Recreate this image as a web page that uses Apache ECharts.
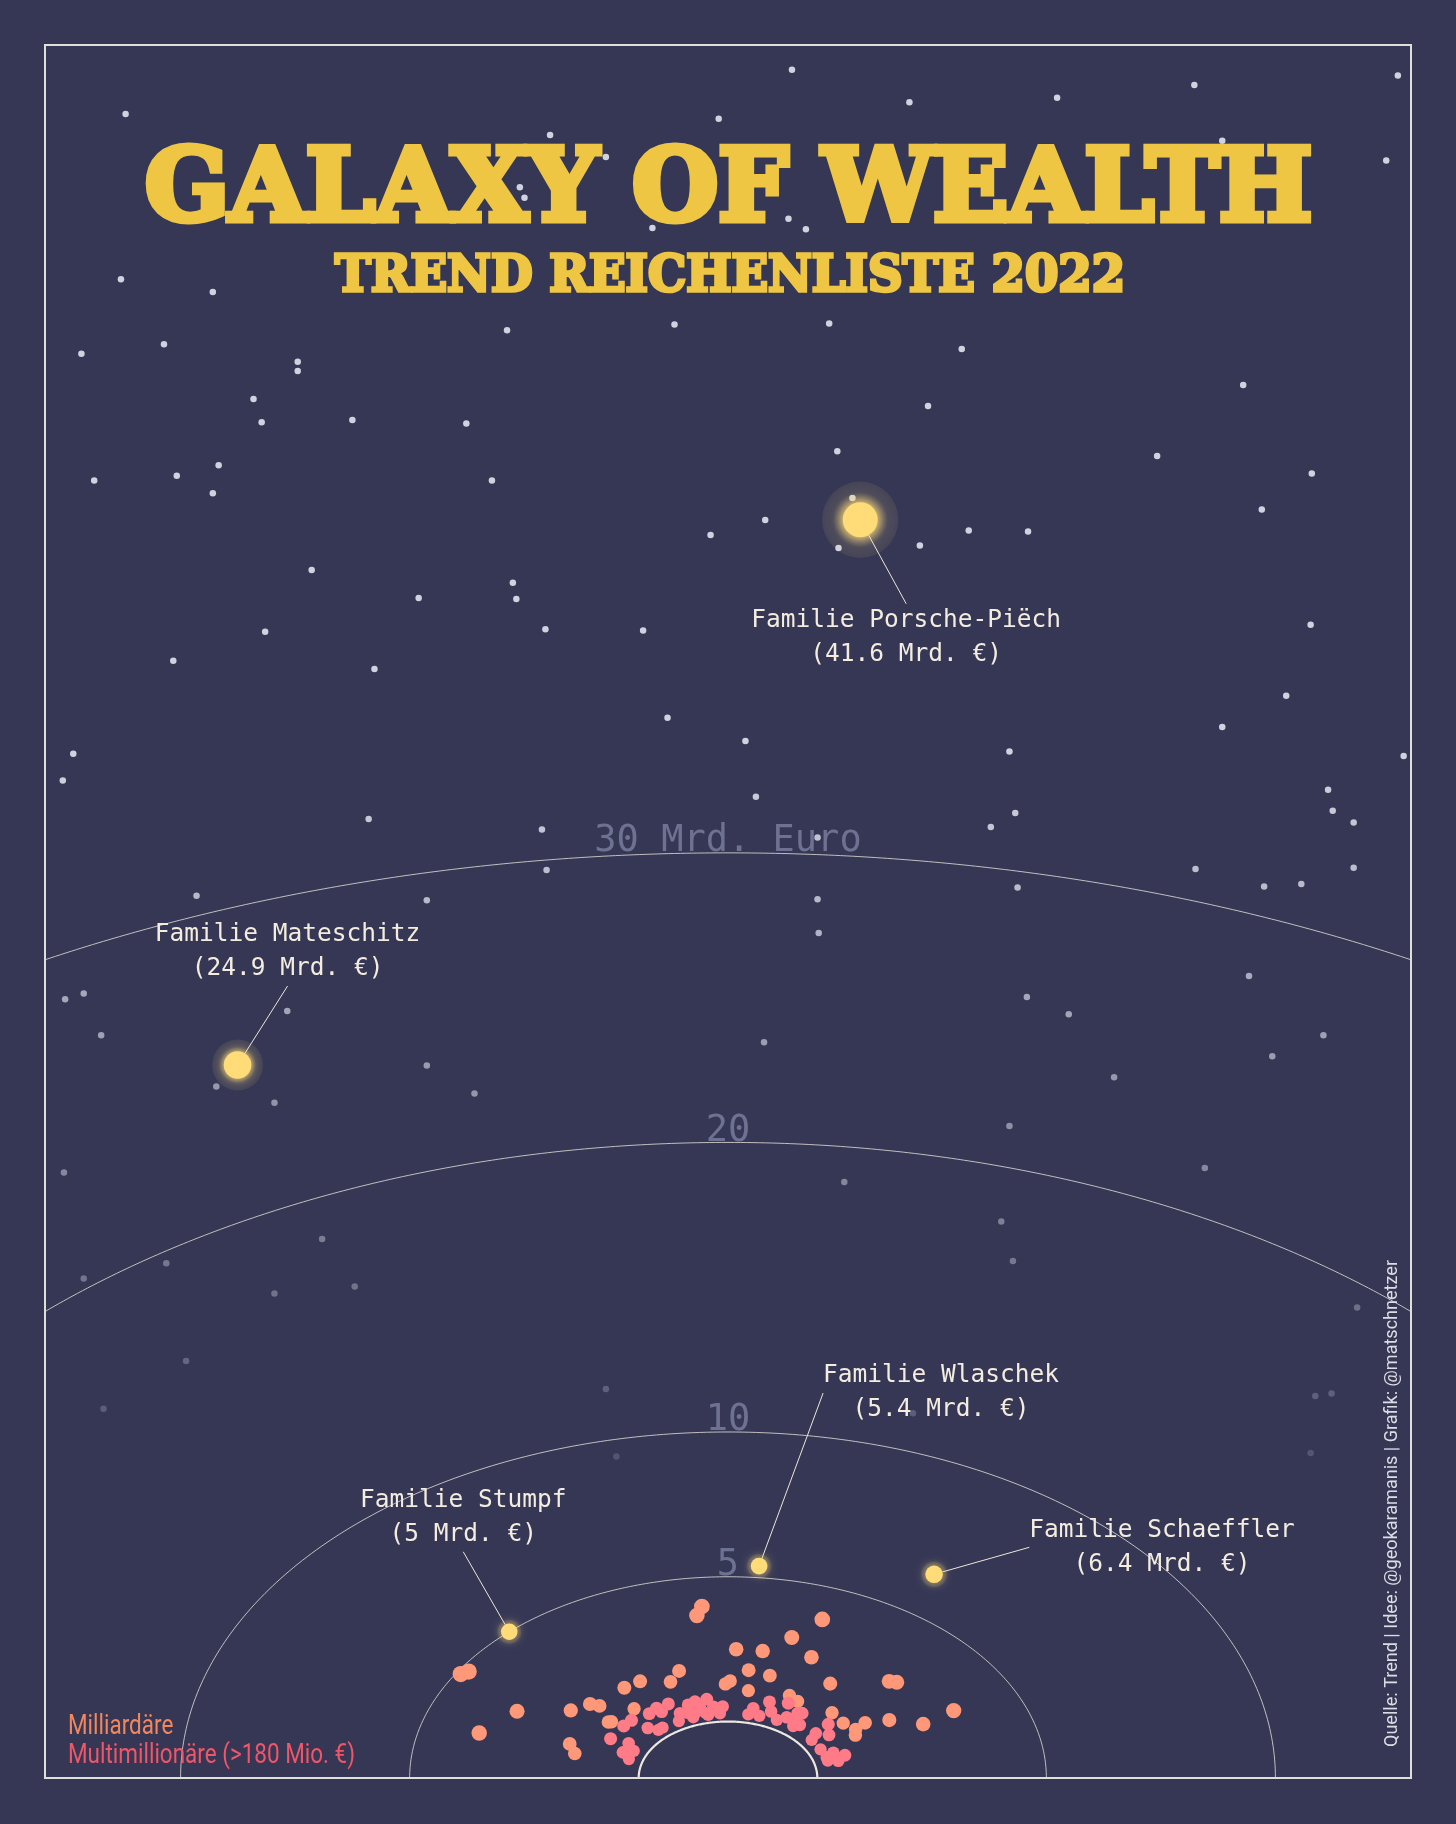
<!DOCTYPE html>
<html lang="de">
<head>
  <meta charset="UTF-8">
  <title>Galaxy of Wealth – Trend Reichenliste 2022</title>
  <script src="https://cdn.jsdelivr.net/npm/echarts@6/dist/echarts.min.js"></script>
  <style>
    html, body { margin: 0; padding: 0; background: #353755; }
    #chart { width: 1456px; height: 1824px; }
  </style>
</head>
<body>
<div id="chart"></div>
<script>
// families with >= 5 Mrd. (labelled)
const familyNames  = ['Familie Porsche-Piëch', 'Familie Mateschitz', 'Familie Schaeffler', 'Familie Wlaschek', 'Familie Stumpf'];
const familyWealth = [41.6, 24.9, 6.4, 5.4, 5];
const familyAngle  = [86.2, 113.5, 57.4, 84.7, 133.4];

// Milliardäre (1 - 5 Mrd.)
const billionWealth = [4.0, 3.7, 3.1, 2.5, 2.5, 1.8, 1.7, 1.9, 1.6, 1.9, 1.9, 1.4, 1.3, 1.1, 1.2,
  2.2, 2.0, 1.8, 1.2, 1.3, 1.25, 1.7, 1.5, 3.9, 2.6, 2.0, 2.9, 3.0, 3.5, 2.7, 2.1, 1.6, 1.3, 1.2,
  1.2, 1.25, 1.1, 4.9, 4.8, 3.2, 3.7];
const billionAngle = [95.5, 96.9, 74.0, 87.7, 80.2, 83.1, 75.5, 106.1, 110.7, 119.9, 126.0, 89.2, 91.0, 81.6, 64.8,
  145.8, 139.7, 138.4, 130.6, 143.5, 142.6, 161.2, 165.8, 69.4, 66.4, 55.6, 43.5, 41.9, 25.3, 23.6, 29.6, 32.5, 31.0, 28.0,
  37.0, 44.8, 60.1, 148.4, 147.0, 153.4, 164.0];

// Multimillionäre (> 180 Mio.)
const multiWealth = [0.95, 0.95, 0.95, 0.51, 0.30, 0.30, 0.86, 0.92, 0.92, 0.76, 0.29, 0.52, 0.48,
  0.78, 0.44, 0.81, 0.34, 0.53, 0.52, 0.29, 0.28, 0.53, 0.51, 0.31, 0.31, 0.29, 0.52, 0.30, 0.83,
  0.53, 0.32, 0.51, 0.95, 0.34, 0.75, 0.81, 0.46, 0.92, 0.71, 0.51, 0.30, 0.30, 0.51, 0.32, 0.31,
  0.53, 0.72, 0.72, 0.53, 0.60, 0.27];
const multiAngle = [152.1, 141.7, 136.6, 135.4, 132.5, 129.4, 127.7, 122.9, 117.0, 122.3, 118.6, 115.1, 111.8,
  105.3, 106.6, 99.7, 102.1, 97.4, 92.7, 94.5, 109.9, 151.0, 158.9, 155.6, 163.2, 78.6, 77.1, 72.3, 71.0,
  67.7, 62.0, 58.6, 63.0, 51.6, 55.7, 54.1, 49.4, 40.3, 34.0, 38.8, 35.7, 26.1, 20.8, 18.4, 15.4,
  13.9, 17.1, 109.0, 104.2, 54.0, 101.2];

// rings (Mrd. Euro)
const ringValues = [0, 5, 10, 20, 30];
const ringLabels = ['', '5', '10', '20', '30 Mrd. Euro'];

// stars (reference at 1252 x 1568)
const stars = [[681,60],[1027,73],[1202,65],[108,98],[909,84],[782,88],[618,102],[473,116],[1051,121],[1056,127],
  [1192,138],[521,135],[447,161],[451,170],[678,188],[693,197],[561,196],[104,240],[183,251],[141,296],[70,304],
  [256,311],[256,319],[436,284],[580,279],[713,278],[827,300],[1069,331],[218,343],[225,363],[303,361],[401,364],
  [798,349],[720,388],[995,392],[81,413],[152,409],[188,400],[183,424],[423,413],[1128,407],[1085,438],[658,447],
  [611,460],[733,428],[721,471],[791,469],[833,456],[884,457],[268,490],[441,501],[444,515],[360,514],[228,543],
  [469,541],[553,542],[1127,537],[149,568],[322,575],[1106,598],[574,617],[1051,625],[641,637],[868,646],[63,648],
  [54,671],[1207,650],[650,685],[1142,679],[1146,697],[317,704],[466,713],[852,711],[873,699],[1164,707],[703,720],
  [470,748],[1028,747],[1087,762],[1119,760],[1164,746],[875,763],[703,773],[169,770],[367,774],[704,802],[56,859],
  [72,854],[87,890],[247,869],[883,857],[919,872],[1074,839],[1138,890],[1094,908],[657,896],[367,916],[408,940],
  [186,934],[236,948],[958,926],[868,968],[55,1008],[726,1016],[1036,1004],[861,1050],[871,1084],[143,1086],
  [72,1099],[236,1112],[305,1106],[277,1065],[1167,1124],[160,1170],[89,1211],[521,1194],[1131,1200],[1145,1198],
  [530,1252],[1127,1249],[785,1215]];

// ---- layout ----
const W = 1456, H = 1824;
const hole = 1.95;       // inner gap of the radial scale
const xHalf = 14.91;     // half width of the plot in Mrd.
const yTop = 59.85;      // height of the plot in Mrd.
const labelOffsets = [[46, 118], [50, -113], [228, -27], [182, -173], [-46, -114]];

function toXY(w, deg) {
  const a = deg * Math.PI / 180, r = w + hole;
  return [r * Math.cos(a), r * Math.sin(a), w];
}
function dotSize(w) { return 11.7 + 1.42 * Math.pow(w, 0.75); }
function starOpacity(y) { return Math.min(0.9, Math.max(0.12, 0.9 - Math.max(0, y - 650) * 0.0012)); }
function measure(text, font) {
  const ctx = document.createElement('canvas').getContext('2d');
  ctx.font = font;
  return ctx.measureText(text).width;
}

const familyData  = familyWealth.map((w, i) => toXY(w, familyAngle[i]));
const billionData = billionWealth.map((w, i) => toXY(w, billionAngle[i]));
const multiData   = multiWealth.map((w, i) => toXY(w, multiAngle[i]));

const titleFont = 'bold 100px "DejaVu Serif"';
const subFont = 'bold 50px "DejaVu Serif"';
const legendFont = '27px Roboto';
const sourceFont = '19px Roboto';
const titleText = 'GALAXY OF WEALTH';
const subText = 'TREND REICHENLISTE 2022';
const sourceText = 'Quelle: Trend | Idee: @geokaramanis | Grafik: @matschnetzer';
const legendScale = 287 / measure('Multimillionäre (>180 Mio. €)', legendFont);

const yellow = '#FFDC78';

const chart = echarts.init(document.getElementById('chart'), null, { width: W, height: H });

const option = {
  backgroundColor: '#353755',
  animation: false,
  grid: [
    { left: 45, top: 45, width: 1366, height: 1733 },
    { left: 0, top: 0, width: W, height: H }
  ],
  xAxis: [
    { gridIndex: 0, type: 'value', min: -xHalf, max: xHalf, show: false },
    { gridIndex: 1, type: 'value', min: 0, max: 1252, show: false }
  ],
  yAxis: [
    { gridIndex: 0, type: 'value', min: 0, max: yTop, show: false },
    { gridIndex: 1, type: 'value', min: 0, max: 1568, inverse: true, show: false }
  ],
  series: [
    {
      name: 'stars', type: 'scatter', xAxisIndex: 1, yAxisIndex: 1, silent: true, z: 1,
      symbolSize: 6.5,
      itemStyle: { color: '#E2E3EE' },
      data: stars.map(s => ({ value: s, itemStyle: { opacity: starOpacity(s[1]) } }))
    },
    {
      name: 'rings', type: 'custom', xAxisIndex: 0, yAxisIndex: 0, silent: true, z: 2,
      data: ringValues.map(v => [0, v]),
      renderItem: function (params, api) {
        const i = params.dataIndex;
        const v = ringValues[i];
        const r = v + hole;
        const t0 = r > xHalf ? Math.acos(xHalf / r) : 0;
        const pts = [];
        for (let k = 0; k <= 240; k++) {
          const t = t0 + (Math.PI - 2 * t0) * k / 240;
          pts.push(api.coord([r * Math.cos(t), r * Math.sin(t)]));
        }
        const top = api.coord([0, r]);
        const children = [{
          type: 'polyline', shape: { points: pts },
          style: { stroke: v === 0 ? '#ECE8DF' : 'rgba(228,225,218,0.8)', lineWidth: v === 0 ? 2.2 : 1, fill: 'none' }
        }];
        if (ringLabels[i]) {
          children.push({
            type: 'text', x: top[0], y: top[1] + 7,
            style: {
              text: ringLabels[i], fill: '#6E7191', font: '37px "DejaVu Sans Mono"',
              align: 'center', verticalAlign: 'bottom', textAlign: 'center', textVerticalAlign: 'bottom'
            }
          });
        }
        return { type: 'group', children: children };
      }
    },
    {
      name: 'glow', type: 'scatter', xAxisIndex: 0, yAxisIndex: 0, silent: true, z: 3,
      data: familyData,
      symbolSize: val => dotSize(val[2]) * (1.35 + val[2] / 50),
      itemStyle: {
        color: {
          type: 'radial', x: 0.5, y: 0.5, r: 0.5,
          colorStops: [
            { offset: 0, color: 'rgba(255,222,125,0.95)' },
            { offset: 0.45, color: 'rgba(255,222,125,0.65)' },
            { offset: 0.72, color: 'rgba(255,222,125,0.16)' },
            { offset: 1, color: 'rgba(255,222,125,0.1)' }
          ]
        }
      }
    },
    {
      name: 'Milliardäre', type: 'scatter', xAxisIndex: 0, yAxisIndex: 0, silent: true, z: 4,
      data: billionData,
      symbolSize: val => dotSize(val[2]),
      itemStyle: { color: '#FF9878', opacity: 1 }
    },
    {
      name: 'Multimillionäre', type: 'scatter', xAxisIndex: 0, yAxisIndex: 0, silent: true, z: 4,
      data: multiData,
      symbolSize: val => dotSize(val[2]),
      itemStyle: { color: '#FF7B87', opacity: 1 }
    },
    {
      name: 'Familien', type: 'scatter', xAxisIndex: 0, yAxisIndex: 0, silent: true, z: 5,
      data: familyData,
      symbolSize: val => dotSize(val[2]),
      itemStyle: { color: yellow, opacity: 1, shadowBlur: 10, shadowColor: 'rgba(255,220,120,0.8)' },
      label: {
        show: true, position: 'inside',
        formatter: p => familyNames[p.dataIndex] + '\n(' + familyWealth[p.dataIndex] + ' Mrd. €)',
        color: '#F3ECDF', fontFamily: 'DejaVu Sans Mono', fontSize: 24.5, lineHeight: 34, align: 'center'
      },
      labelLayout: function (params) {
        const o = labelOffsets[params.dataIndex];
        return { dx: o[0], dy: o[1] };
      },
      labelLine: { show: true, lineStyle: { color: '#EDE6D8', width: 1 } }
    }
  ],
  graphic: [
    {
      type: 'rect', z: 100, silent: true,
      shape: { x: 45, y: 45, width: 1366, height: 1733 },
      style: { fill: 'none', stroke: '#E2DFDA', lineWidth: 2 }
    },
    {
      type: 'text', z: 100, silent: true, x: 728.6, y: 194,
      scaleX: 1167 / measure(titleText, titleFont),
      style: {
        text: titleText, font: titleFont, fill: '#EFC643', stroke: '#EFC643', lineWidth: 7,
        align: 'center', verticalAlign: 'middle', textAlign: 'center', textVerticalAlign: 'middle'
      }
    },
    {
      type: 'text', z: 100, silent: true, x: 730, y: 278,
      scaleX: 790 / measure(subText, subFont),
      style: {
        text: subText, font: subFont, fill: '#EFC643', stroke: '#EFC643', lineWidth: 3.5,
        align: 'center', verticalAlign: 'middle', textAlign: 'center', textVerticalAlign: 'middle'
      }
    },
    {
      type: 'text', z: 100, silent: true, x: 68, y: 1727, scaleX: legendScale,
      style: {
        text: 'Milliardäre', font: legendFont, fill: '#F2865C',
        align: 'left', verticalAlign: 'middle', textAlign: 'left', textVerticalAlign: 'middle'
      }
    },
    {
      type: 'text', z: 100, silent: true, x: 68, y: 1756, scaleX: legendScale,
      style: {
        text: 'Multimillionäre (>180 Mio. €)', font: legendFont, fill: '#F05669',
        align: 'left', verticalAlign: 'middle', textAlign: 'left', textVerticalAlign: 'middle'
      }
    },
    {
      type: 'text', z: 100, silent: true, x: 1392, y: 1747, rotation: Math.PI / 2,
      scaleX: 487 / measure(sourceText, sourceFont),
      style: {
        text: sourceText, font: sourceFont, fill: '#DCDCE2',
        align: 'left', verticalAlign: 'middle', textAlign: 'left', textVerticalAlign: 'middle'
      }
    }
  ]
};

chart.setOption(option);
</script>
</body>
</html>
